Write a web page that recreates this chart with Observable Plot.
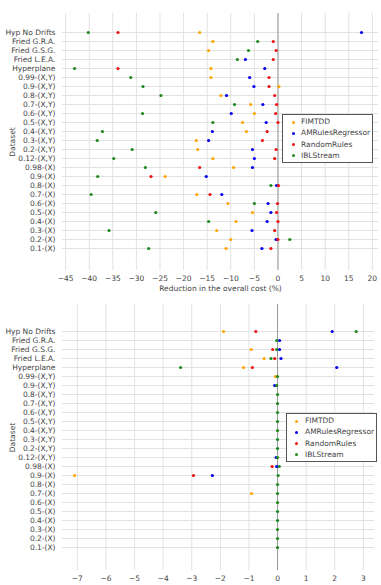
<!DOCTYPE html>
<html>
<head>
<meta charset="utf-8">
<script src="https://cdn.jsdelivr.net/npm/d3@7"></script>
<script src="https://cdn.jsdelivr.net/npm/@observablehq/plot@0.6"></script>
<style>
  html, body { margin: 0; padding: 0; background: white; }
  #wrap { position: relative; width: 381px; height: 585px; overflow: hidden; font-family: "DejaVu Sans", sans-serif; }
  .panel svg { display: block; }
  .legend { position: absolute; background: white; border: 1.5px solid #555; box-sizing: border-box; font-size: 7.5px; color: #444; }
  .legend .item { position: absolute; left: 0; height: 10px; line-height: 10px; white-space: nowrap; }
  .legend .dot { position: absolute; width: 3px; height: 3px; border-radius: 50%; top: 3.5px; }
  .legend .lab { position: absolute; top: 0; }
</style>
</head>
<body>
<div id="wrap"></div>
<script>
const categories = ["Hyp No Drifts","Fried G.R.A.","Fried G.S.G.","Fried L.E.A.","Hyperplane",
  "0.99-(X,Y)","0.9-(X,Y)","0.8-(X,Y)","0.7-(X,Y)","0.6-(X,Y)","0.5-(X,Y)","0.4-(X,Y)","0.3-(X,Y)","0.2-(X,Y)","0.12-(X,Y)",
  "0.98-(X)","0.9-(X)","0.8-(X)","0.7-(X)","0.6-(X)","0.5-(X)","0.4-(X)","0.3-(X)","0.2-(X)","0.1-(X)"];
const seriesNames = ["FIMTDD","AMRulesRegressor","RandomRules","IBLStream"];
const seriesColors = ["#FFA500","#0000EE","#EE1111","#1E8A1E"];

// Top panel values (aligned to categories; null = not shown)
const topFIMTDD = [-16.6,-13.8,-14.7,null,-14.2,-14.2,0.2,-12.1,-5.8,-5.0,-7.5,-6.7,-17.3,-17.0,-13.8,-9.4,-23.9,null,-17.2,-10.6,-5.4,-8.9,-13.0,-10.0,-11.0];
const topAMRules = [17.7,null,null,-6.9,-2.8,-6.0,-5.1,-10.9,-3.2,-9.9,-2.5,-13.9,-14.7,-5.4,-5.0,-5.4,-15.2,-0.3,-11.9,-2.1,-1.5,-2.3,-5.5,-0.4,-3.4];
const topRandomRules = [-33.9,-1.0,-0.4,-1.0,-33.9,-1.9,-1.9,-0.7,-0.3,-0.5,0.0,-2.3,-3.3,-0.4,-0.7,-16.6,-26.9,0.1,-14.4,-0.1,-0.3,0.0,-0.7,0.0,-1.5];
const topIBLStream = [-40.2,-4.3,-6.25,-8.6,-43.1,-31.2,-28.6,-24.8,-9.2,-28.7,-13.8,-37.2,-38.3,-30.9,-34.8,-28.1,-38.2,-1.5,-39.6,-5.0,-25.9,-14.7,-35.8,2.5,-27.4];
const topTicks = [-45,-40,-35,-30,-25,-20,-15,-10,-5,0,5,10,15,20];

// Bottom panel values
const botFIMTDD = [-1.89,null,-0.92,-0.47,-1.19,-0.07,null,null,null,null,null,null,null,null,null,null,-7.1,null,-0.91,null,null,null,null,null,null];
const botAMRules = [1.91,0.07,0.07,0.12,2.07,null,-0.1,null,null,null,null,null,null,null,-0.05,-0.03,-2.28,null,null,null,null,null,null,null,null];
const botRandomRules = [-0.76,null,-0.17,-0.1,-0.88,null,null,null,null,null,null,null,null,null,null,-0.19,-2.94,null,null,null,null,null,null,null,null];
const botIBLStream = [2.75,-0.03,-0.03,-0.23,-3.39,0,-0.03,0,0,0,0,0,0,0,0,0.06,0.02,0,0,0,0,0,0,0,0];
const botTicks = [-7,-6,-5,-4,-3,-2,-1,0,1,2,3];

function longData(arrs) {
  const out = [];
  arrs.forEach((arr, s) => arr.forEach((v, i) => {
    if (v != null) out.push({cat: categories[i], value: v, series: seriesNames[s]});
  }));
  return out;
}

function panel({data, ticks, xDomain, height, marginTop, marginBottom, yRange, marginRight}) {
  return Plot.plot({
    width: 381, height, marginLeft: 62, marginRight, marginTop, marginBottom,
    style: {fontFamily: "DejaVu Sans", fontSize: "7.5px", color: "#444", background: "white"},
    x: {domain: xDomain},
    y: {type: "point", domain: categories, range: yRange},
    color: {domain: seriesNames, range: seriesColors},
    marks: [
      Plot.gridX(ticks, {stroke: "#e2e2e2", strokeOpacity: 1}),
      Plot.gridY(categories, {stroke: "#e2e2e2", strokeOpacity: 1}),
      Plot.ruleX([0], {stroke: "#999", strokeWidth: 1}),
      Plot.axisX(ticks, {tickSize: 0, tickPadding: 5, label: "Reduction in the overall cost (%)", labelAnchor: "center", labelArrow: "none", labelOffset: 20, fill: "#444"}),
      Plot.axisY(categories, {tickSize: 0, tickPadding: 7, label: "Dataset", labelAnchor: "center", labelArrow: "none", labelOffset: 53, fill: "#444"}),
      Plot.dot(data, {x: "value", y: "cat", fill: "series", r: 1.6})
    ]
  });
}

function legend(left, top, width, height, rowTop, rowStep, dotX, textX) {
  const div = document.createElement("div");
  div.className = "legend";
  Object.assign(div.style, {left: left + "px", top: top + "px", width: width + "px", height: height + "px"});
  seriesNames.forEach((name, i) => {
    const item = document.createElement("div");
    item.className = "item";
    item.style.top = (rowTop + i * rowStep - 5) + "px";
    const dot = document.createElement("div");
    dot.className = "dot";
    dot.style.left = (dotX - 1.5) + "px";
    dot.style.background = seriesColors[i];
    const lab = document.createElement("div");
    lab.className = "lab";
    lab.style.left = textX + "px";
    lab.textContent = name;
    item.appendChild(dot); item.appendChild(lab);
    div.appendChild(item);
  });
  return div;
}

const wrap = document.getElementById("wrap");
const p1 = document.createElement("div"); p1.className = "panel";
p1.appendChild(panel({
  data: longData([topFIMTDD, topAMRules, topRandomRules, topIBLStream]),
  ticks: topTicks, xDomain: [-45.66, 21.3], height: 292, marginTop: 13, marginBottom: 22,
  yRange: [20.7, 258.3], marginRight: 3
}));
wrap.appendChild(p1);
const p2 = document.createElement("div"); p2.className = "panel";
p2.appendChild(panel({
  data: longData([botFIMTDD, botAMRules, botRandomRules, botIBLStream]),
  ticks: botTicks, xDomain: [-7.52, 3.39], height: 300, marginTop: 12, marginBottom: 22,
  yRange: [28, 265], marginRight: 7
}));
wrap.appendChild(p2);

wrap.appendChild(legend(282, 114, 91, 49, 7, 11.3, 10, 18));
wrap.appendChild(legend(286, 413, 91, 49, 7, 11.3, 9, 18));
</script>
</body>
</html>
